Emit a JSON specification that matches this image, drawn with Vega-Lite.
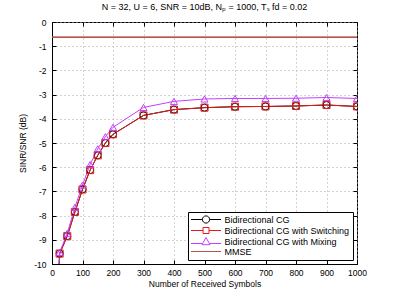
{
  "$schema": "https://vega.github.io/schema/vega-lite/v6.json",
  "autosize": {"type": "none"},
  "width": 305,
  "height": 242,
  "padding": {"left": 52, "top": 22, "right": 38, "bottom": 32},
  "background": "white",
  "title": {"text": "N = 32, U = 6, SNR = 10dB, Nₚ = 1000, Tₛ fd = 0.02", "font": "Liberation Sans", "fontSize": 9, "fontWeight": "normal", "color": "black", "offset": 6},
  "config": {
    "view": {"stroke": "black", "strokeWidth": 1},
    "axis": {"labelFont": "Liberation Sans", "labelFontSize": 8.5, "labelColor": "black", "titleFont": "Liberation Sans", "titleFontSize": 8.5, "titleFontWeight": "normal", "titleColor": "black", "domainColor": "black", "tickColor": "black", "tickSize": -4, "labelOverlap": false, "labelFlush": false, "gridColor": "#a8a8a8", "gridDash": [1, 3], "gridWidth": 1}
  },
  "resolve": {"axis": {"x": "independent", "y": "independent"}},
  "data": {"values": [
    {"series": "Bidirectional CG", "x": 20, "y": -11},
    {"series": "Bidirectional CG", "x": 25, "y": -9.57},
    {"series": "Bidirectional CG", "x": 50, "y": -8.85},
    {"series": "Bidirectional CG", "x": 75, "y": -7.85},
    {"series": "Bidirectional CG", "x": 100, "y": -6.92},
    {"series": "Bidirectional CG", "x": 125, "y": -6.12},
    {"series": "Bidirectional CG", "x": 150, "y": -5.51},
    {"series": "Bidirectional CG", "x": 175, "y": -5.0},
    {"series": "Bidirectional CG", "x": 200, "y": -4.64},
    {"series": "Bidirectional CG", "x": 300, "y": -3.86},
    {"series": "Bidirectional CG", "x": 400, "y": -3.62},
    {"series": "Bidirectional CG", "x": 500, "y": -3.54},
    {"series": "Bidirectional CG", "x": 600, "y": -3.5},
    {"series": "Bidirectional CG", "x": 700, "y": -3.49},
    {"series": "Bidirectional CG", "x": 800, "y": -3.47},
    {"series": "Bidirectional CG", "x": 900, "y": -3.43},
    {"series": "Bidirectional CG", "x": 1000, "y": -3.49},
    {"series": "Bidirectional CG with Switching", "x": 20, "y": -11},
    {"series": "Bidirectional CG with Switching", "x": 25, "y": -9.57},
    {"series": "Bidirectional CG with Switching", "x": 50, "y": -8.85},
    {"series": "Bidirectional CG with Switching", "x": 75, "y": -7.85},
    {"series": "Bidirectional CG with Switching", "x": 100, "y": -6.92},
    {"series": "Bidirectional CG with Switching", "x": 125, "y": -6.12},
    {"series": "Bidirectional CG with Switching", "x": 150, "y": -5.51},
    {"series": "Bidirectional CG with Switching", "x": 175, "y": -5.0},
    {"series": "Bidirectional CG with Switching", "x": 200, "y": -4.64},
    {"series": "Bidirectional CG with Switching", "x": 300, "y": -3.86},
    {"series": "Bidirectional CG with Switching", "x": 400, "y": -3.62},
    {"series": "Bidirectional CG with Switching", "x": 500, "y": -3.54},
    {"series": "Bidirectional CG with Switching", "x": 600, "y": -3.5},
    {"series": "Bidirectional CG with Switching", "x": 700, "y": -3.49},
    {"series": "Bidirectional CG with Switching", "x": 800, "y": -3.47},
    {"series": "Bidirectional CG with Switching", "x": 900, "y": -3.43},
    {"series": "Bidirectional CG with Switching", "x": 1000, "y": -3.49},
    {"series": "Bidirectional CG with Mixing", "x": 20, "y": -11},
    {"series": "Bidirectional CG with Mixing", "x": 25, "y": -9.52},
    {"series": "Bidirectional CG with Mixing", "x": 50, "y": -8.73},
    {"series": "Bidirectional CG with Mixing", "x": 75, "y": -7.66},
    {"series": "Bidirectional CG with Mixing", "x": 100, "y": -6.74},
    {"series": "Bidirectional CG with Mixing", "x": 125, "y": -5.89},
    {"series": "Bidirectional CG with Mixing", "x": 150, "y": -5.24},
    {"series": "Bidirectional CG with Mixing", "x": 175, "y": -4.74},
    {"series": "Bidirectional CG with Mixing", "x": 200, "y": -4.35},
    {"series": "Bidirectional CG with Mixing", "x": 300, "y": -3.53},
    {"series": "Bidirectional CG with Mixing", "x": 400, "y": -3.28},
    {"series": "Bidirectional CG with Mixing", "x": 500, "y": -3.18},
    {"series": "Bidirectional CG with Mixing", "x": 600, "y": -3.16},
    {"series": "Bidirectional CG with Mixing", "x": 700, "y": -3.16},
    {"series": "Bidirectional CG with Mixing", "x": 800, "y": -3.15},
    {"series": "Bidirectional CG with Mixing", "x": 900, "y": -3.12},
    {"series": "Bidirectional CG with Mixing", "x": 1000, "y": -3.16},
    {"series": "MMSE", "x": 0, "y": -0.63},
    {"series": "MMSE", "x": 1000, "y": -0.63}
  ]},
  "encoding": {
    "x": {"field": "x", "type": "quantitative", "scale": {"domain": [0, 1000], "nice": false, "zero": false}},
    "y": {"field": "y", "type": "quantitative", "scale": {"domain": [-10, 0], "nice": false, "zero": false}}
  },
  "layer": [
    {
      "mark": {"type": "line", "clip": true, "strokeWidth": 1},
      "encoding": {
        "x": {"field": "x", "type": "quantitative", "axis": {"title": "Number of Received Symbols", "values": [0,100,200,300,400,500,600,700,800,900,1000], "format": "d", "labelPadding": 8, "titlePadding": 3, "grid": true}},
        "y": {"field": "y", "type": "quantitative", "axis": {"title": "SINR/SNR (dB)", "values": [-10,-9,-8,-7,-6,-5,-4,-3,-2,-1,0], "labelExpr": "toString(datum.value)", "labelPadding": 10, "titlePadding": 6, "grid": true}},
        "color": {
          "field": "series", "type": "nominal",
          "scale": {"domain": ["Bidirectional CG", "Bidirectional CG with Switching", "Bidirectional CG with Mixing", "MMSE"], "range": ["#000000", "#e41a1a", "#c040ff", "#b5534a"]},
          "legend": {
            "title": null, "orient": "bottom-right", "offset": 4,
            "fillColor": "white", "strokeColor": "black", "padding": 3,
            "labelFont": "Liberation Sans", "labelFontSize": 9, "labelColor": "black",
            "symbolSize": 64, "symbolOffset": 10.5, "labelOffset": 14, "rowPadding": -1,
            "symbolStrokeWidth": 1,
            "encode": {"symbols": {"update": {
              "fill": {"value": "transparent"},
              "strokeWidth": {"value": 1},
              "shape": {"signal": "datum.value === 'Bidirectional CG' ? 'M-3.75,0H-0.9M0.9,0H3.75M-0.9,0A0.9,0.9 0 1,0 0.9,0A0.9,0.9 0 1,0 -0.9,0' : datum.value === 'Bidirectional CG with Switching' ? 'M-3.75,0H-0.75M0.75,0H3.75M-0.75,-0.75H0.75V0.75H-0.75Z' : datum.value === 'Bidirectional CG with Mixing' ? 'M-3.75,0.5H-0.95M0.95,0.5H3.75M0,-1L1,0.8H-1Z' : 'M-3.75,0H3.75'"}
            }}}
          }
        }
      }
    },
    {
      "transform": [{"filter": "datum.series !== 'MMSE'"}],
      "mark": {"type": "point", "clip": true, "filled": false, "strokeWidth": 1, "opacity": 1},
      "encoding": {
        "x": {"field": "x", "type": "quantitative", "axis": {"orient": "top", "values": [0,100,200,300,400,500,600,700,800,900,1000], "labels": false, "domain": false, "grid": false, "title": null}},
        "y": {"field": "y", "type": "quantitative", "axis": {"orient": "right", "values": [-10,-9,-8,-7,-6,-5,-4,-3,-2,-1,0], "labels": false, "domain": false, "grid": false, "title": null}},
        "color": {"field": "series", "type": "nominal"},
        "shape": {"field": "series", "type": "nominal", "legend": null,
          "scale": {"domain": ["Bidirectional CG", "Bidirectional CG with Switching", "Bidirectional CG with Mixing"], "range": ["circle", "square", "triangle-up"]}},
        "size": {"value": 50}
      }
    },
    {
      "transform": [{"filter": "datum.series === 'MMSE'"}],
      "mark": {"type": "line", "clip": true, "strokeWidth": 1.5},
      "encoding": {
        "x": {"field": "x", "type": "quantitative", "axis": null},
        "y": {"field": "y", "type": "quantitative", "axis": null},
        "color": {"field": "series", "type": "nominal"}
      }
    }
  ]
}
